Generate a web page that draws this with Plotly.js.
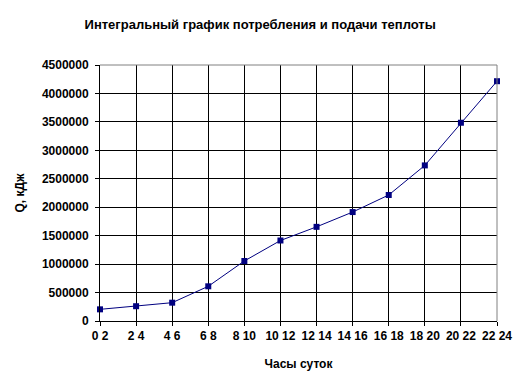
<!DOCTYPE html>
<html>
<head>
<meta charset="utf-8">
<script src="https://cdn.plot.ly/plotly-3.0.1.min.js"></script>
<style>html,body{margin:0;padding:0;background:#fff;}#chart{width:531px;height:392px;}</style>
</head>
<body>
<div id="chart"></div>
<script>
const categories = ["0 2","2 4","4 6","6 8","8 10","10 12","12 14","14 16","16 18","18 20","20 22","22 24"];
const heatQ = [205000, 260000, 322000, 610000, 1055000, 1415000, 1655000, 1915000, 2215000, 2735000, 3485000, 4215000];
const yTicks = [0, 500000, 1000000, 1500000, 2000000, 2500000, 3000000, 3500000, 4000000, 4500000];
const chartTitle = "Интегральный график потребления и подачи теплоты";
const xTitle = "Часы суток";
const yTitle = "Q, кДж";

const fnt = {family: "Liberation Sans, Arial, sans-serif", size: 12, color: "#000", weight: "bold"};

const trace = {
  x: categories,
  y: heatQ,
  type: "scatter",
  mode: "lines+markers",
  line: {color: "#000080", width: 1},
  marker: {color: "#000080", symbol: "square", size: 6},
  cliponaxis: false,
  hoverinfo: "skip"
};

const layout = {
  width: 531, height: 392,
  margin: {l: 100, r: 34, t: 65, b: 71},
  paper_bgcolor: "#fff", plot_bgcolor: "#fff",
  showlegend: false,
  font: fnt,
  title: {text: chartTitle, font: {family: fnt.family, size: 13, color: "#000", weight: "bold"}, x: 0.49, xref: "container", xanchor: "center", y: 0.938, yanchor: "middle"},
  xaxis: {
    type: "category",
    range: [0, categories.length - 1],
    tickmode: "array", tickvals: categories, ticktext: categories,
    showgrid: true, gridcolor: "#000", gridwidth: 1,
    showline: true, linecolor: "#000", linewidth: 1,
    ticks: "outside", ticklen: 4, tickcolor: "#000",
    tickfont: fnt, zeroline: false,
    title: {text: xTitle, font: fnt, standoff: 17}
  },
  yaxis: {
    range: [0, 4500000],
    tickmode: "array", tickvals: yTicks, ticktext: yTicks.map(String),
    showgrid: true, gridcolor: "#000", gridwidth: 1,
    showline: true, linecolor: "#000", linewidth: 1,
    ticks: "outside", ticklen: 4, tickcolor: "#000",
    tickfont: fnt, zeroline: false,
    ticklabelstandoff: 4,
    title: {text: yTitle, font: fnt, standoff: 14}
  },
  shapes: [
    {type: "line", xref: "paper", yref: "paper", x0: 0, x1: 1, y0: 1, y1: 1, line: {color: "#808080", width: 1}, layer: "above"},
    {type: "line", xref: "paper", yref: "paper", x0: 1, x1: 1, y0: 0, y1: 1, line: {color: "#808080", width: 1}, layer: "above"}
  ]
};

Plotly.newPlot("chart", [trace], layout, {displayModeBar: false, staticPlot: true});
</script>
</body>
</html>
